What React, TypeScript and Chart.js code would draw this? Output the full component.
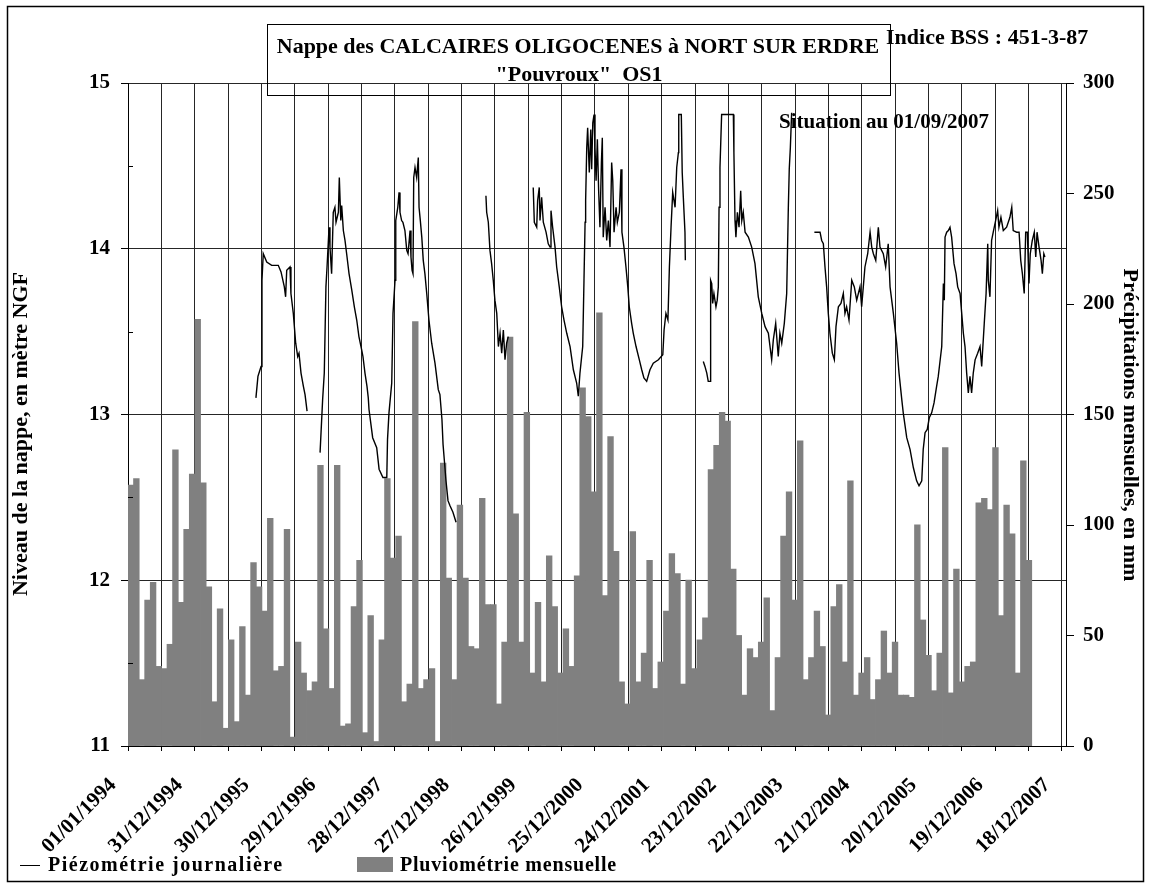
import React, { useEffect, useRef } from 'react';
import { Chart, registerables } from 'chart.js';

Chart.register(...registerables);

const FONT = '"Liberation Serif", "Times New Roman", serif';

// ---- text ----
const titleLines = ['Nappe des CALCAIRES OLIGOCENES à NORT SUR ERDRE', '"Pouvroux"  OS1'];
const bssText = 'Indice BSS : 451-3-87';
const situationText = 'Situation au 01/09/2007';
const leftAxisTitle = 'Niveau de la nappe, en mètre NGF';
const rightAxisTitle = 'Précipitations mensuelles, en mm';
const lineLabel = 'Piézométrie journalière';
const barLabel = 'Pluviométrie mensuelle';

// ---- x axis (days since 01/01/1994) ----
const xTickLabels = [
  '01/01/1994', '31/12/1994', '30/12/1995', '29/12/1996', '28/12/1997',
  '27/12/1998', '26/12/1999', '25/12/2000', '24/12/2001', '23/12/2002',
  '22/12/2003', '21/12/2004', '20/12/2005', '19/12/2006', '18/12/2007',
];
const X_TICK_STEP_DAYS = 182;
const X_MAX_DAYS = 5118;
const DAYS_PER_MONTH = 365.25 / 12;

// ---- y axes ----
const leftTicks = [11, 12, 13, 14, 15];
const leftMinorTicks = [11.5, 12.5, 13.5, 14.5];
const rightTicks = [0, 50, 100, 150, 200, 250, 300];

// ---- monthly rainfall (mm), from Jan 1994 ----
const rainMonthly = [
  118, 121, 30, 66, 74, 36, 35, 46, 134, 65, 98, 123,
  193, 119, 72, 20, 62, 8, 48, 11, 54, 23, 83, 72,
  61, 103, 34, 36, 98, 4, 47, 33, 25, 29, 127, 53,
  26, 127, 9, 10, 63, 84, 6, 59, 2, 48, 121, 85,
  95, 20, 28, 192, 26, 30, 35, 2, 128, 76, 30, 109,
  76, 45, 44, 112, 64, 64, 19, 47, 185, 105, 47, 151,
  33, 65, 29, 86, 63, 33, 53, 36, 77, 162, 149, 115,
  196, 68, 140, 88, 29, 19, 97, 29, 42, 84, 26, 38,
  61, 87, 78, 28, 75, 35, 48, 58, 125, 136, 151, 147,
  80, 50, 23, 44, 40, 47, 67, 16, 40, 95, 115, 66,
  138, 30, 40, 61, 45, 14, 63, 73, 38, 120, 23, 33,
  40, 21, 30, 52, 33, 47, 23, 23, 22, 100, 57, 41,
  25, 42, 135, 24, 80, 29, 36, 38, 110, 112, 107, 135,
  59, 109, 96, 33, 129, 84,
];

// ---- daily groundwater level (m NGF), segments [day, level] ----
const piezo1995 = [
  [698, 13.10], [709, 13.23], [726, 13.29], [731, 13.81], [738, 13.97], [757, 13.92],
  [784, 13.90], [820, 13.90], [835, 13.86], [853, 13.77], [860, 13.71], [866, 13.87],
  [884, 13.89], [889, 13.73], [902, 13.61], [915, 13.43], [926, 13.35], [933, 13.37],
  [944, 13.25], [957, 13.17], [966, 13.12], [977, 13.02],
];
const piezo1996 = [
  [1048, 12.77], [1062, 13.09], [1071, 13.25], [1080, 13.77], [1086, 13.89], [1097, 14.13],
  [1102, 14.01], [1111, 13.85], [1120, 14.22], [1129, 14.25], [1135, 14.16], [1148, 14.22],
  [1153, 14.43], [1161, 14.17], [1166, 14.26], [1175, 14.11], [1184, 14.05], [1193, 13.97],
  [1206, 13.85], [1221, 13.75], [1235, 13.65], [1248, 13.57], [1260, 13.47], [1275, 13.39],
  [1282, 13.35], [1293, 13.25], [1304, 13.17], [1311, 13.10], [1315, 13.03], [1335, 12.86],
  [1357, 12.80], [1370, 12.67], [1391, 12.62], [1412, 12.62], [1416, 12.85], [1424, 13.01],
  [1439, 13.19], [1446, 13.61], [1457, 13.81], [1461, 14.17], [1472, 14.25], [1479, 14.34],
  [1484, 14.22], [1493, 14.17], [1500, 14.16], [1511, 14.11], [1521, 13.99], [1528, 13.97],
  [1539, 14.11], [1544, 13.95], [1550, 13.87], [1555, 13.85], [1559, 14.43], [1566, 14.49],
  [1575, 14.43], [1584, 14.55], [1588, 14.25], [1595, 14.17], [1603, 14.07], [1611, 13.93],
  [1620, 13.85], [1630, 13.73], [1642, 13.57], [1657, 13.43], [1675, 13.31], [1693, 13.15],
  [1702, 13.12], [1713, 12.97], [1719, 12.82], [1727, 12.71], [1735, 12.60], [1746, 12.48],
  [1757, 12.45], [1773, 12.41], [1790, 12.35],
];
const piezo1999 = [
  [1953, 14.32], [1957, 14.22], [1966, 14.16], [1975, 13.99], [1984, 13.91], [1993, 13.81],
  [2002, 13.69], [2012, 13.61], [2021, 13.41], [2030, 13.49], [2039, 13.37], [2048, 13.51],
  [2057, 13.33], [2066, 13.43], [2075, 13.47],
];
const piezo2000 = [
  [2211, 14.37], [2217, 14.16], [2230, 14.13], [2235, 14.29], [2244, 14.37], [2248, 14.17],
  [2257, 14.31], [2266, 14.16], [2281, 14.10], [2293, 14.03], [2303, 14.01], [2308, 14.23],
  [2317, 14.13], [2330, 14.01], [2339, 13.89], [2353, 13.77], [2366, 13.65], [2379, 13.57],
  [2394, 13.49], [2412, 13.41], [2430, 13.27], [2448, 13.19], [2457, 13.11], [2466, 13.25],
  [2481, 13.41], [2488, 13.81], [2494, 14.16], [2497, 14.29], [2503, 14.61], [2508, 14.73],
  [2517, 14.46], [2525, 14.72], [2530, 14.48], [2536, 14.76], [2543, 14.81], [2548, 14.61],
  [2554, 14.41], [2561, 14.66], [2568, 14.35], [2575, 14.13], [2583, 14.52], [2588, 14.67],
  [2593, 14.07], [2603, 14.25], [2612, 14.05], [2621, 14.17], [2630, 14.01], [2639, 14.52],
  [2645, 14.41], [2652, 14.10], [2663, 14.25], [2670, 14.16], [2681, 14.22], [2690, 14.48],
  [2695, 14.10], [2706, 14.01], [2717, 13.89], [2727, 13.77], [2735, 13.65], [2748, 13.55],
  [2757, 13.49], [2772, 13.41], [2790, 13.33], [2803, 13.27], [2815, 13.22], [2830, 13.20],
  [2848, 13.27], [2866, 13.31], [2894, 13.33], [2918, 13.36], [2925, 13.51], [2935, 13.61],
  [2946, 13.57], [2954, 13.89], [2963, 14.13], [2972, 14.34], [2985, 14.25], [2994, 14.49],
  [3003, 14.58], [3005, 14.81], [3019, 14.81], [3024, 14.46], [3030, 14.31], [3039, 14.10],
  [3041, 13.93],
];
const piezo2002 = [
  [3139, 13.32], [3148, 13.29], [3158, 13.25], [3166, 13.20], [3176, 13.20], [3179, 13.81],
  [3185, 13.79], [3190, 13.67], [3197, 13.73], [3208, 13.65], [3215, 13.69], [3221, 13.77],
  [3225, 14.25], [3230, 14.49], [3239, 14.81], [3303, 14.81], [3306, 14.58], [3312, 14.17],
  [3317, 14.07], [3325, 14.22], [3334, 14.13], [3343, 14.35], [3349, 14.17], [3357, 14.22],
  [3367, 14.10], [3385, 14.07], [3403, 14.01], [3421, 13.91], [3439, 13.71], [3458, 13.61],
  [3476, 13.53], [3494, 13.49], [3512, 13.33], [3521, 13.45], [3534, 13.55], [3548, 13.35],
  [3557, 13.49], [3567, 13.43], [3581, 13.55], [3594, 13.73], [3603, 14.25], [3608, 14.48],
  [3614, 14.61], [3621, 14.82],
];
const piezo2004 = [
  [3745, 14.10], [3776, 14.10], [3785, 14.05], [3794, 14.03], [3803, 13.89], [3812, 13.77],
  [3821, 13.61], [3830, 13.49], [3843, 13.37], [3854, 13.33], [3863, 13.53], [3876, 13.65],
  [3890, 13.67], [3903, 13.73], [3912, 13.61], [3921, 13.65], [3934, 13.57], [3949, 13.81],
  [3963, 13.77], [3976, 13.69], [3994, 13.77], [4003, 13.65], [4012, 13.77], [4021, 13.89],
  [4036, 13.97], [4049, 14.10], [4058, 14.01], [4067, 13.97], [4080, 13.93], [4094, 14.13],
  [4103, 14.01], [4121, 13.97], [4134, 13.89], [4148, 14.03], [4158, 13.77], [4176, 13.61],
  [4194, 13.43], [4207, 13.25], [4222, 13.09], [4230, 13.01], [4249, 12.86], [4267, 12.79],
  [4285, 12.68], [4303, 12.60], [4316, 12.57], [4331, 12.60], [4339, 12.79], [4349, 12.89],
  [4361, 12.91], [4372, 12.98], [4385, 13.01], [4398, 13.07], [4412, 13.17], [4421, 13.23],
  [4440, 13.41], [4449, 13.79], [4454, 13.69], [4458, 14.07], [4467, 14.10], [4476, 14.11],
  [4485, 14.13], [4494, 14.07], [4507, 13.91], [4518, 13.85], [4527, 13.77], [4540, 13.73],
  [4549, 13.61], [4558, 13.49], [4567, 13.41], [4576, 13.25], [4585, 13.13], [4594, 13.23],
  [4603, 13.13], [4612, 13.25], [4622, 13.33], [4636, 13.37], [4649, 13.41], [4658, 13.29],
  [4672, 13.55], [4682, 13.73], [4691, 14.03], [4694, 13.81], [4703, 13.71], [4712, 14.05],
  [4721, 14.10], [4734, 14.17], [4745, 14.23], [4752, 14.13], [4763, 14.19], [4776, 14.11],
  [4794, 14.13], [4812, 14.19], [4822, 14.25], [4830, 14.11], [4849, 14.10], [4862, 14.10],
  [4871, 13.93], [4880, 13.85], [4890, 13.73], [4898, 14.10], [4907, 14.10], [4916, 13.79],
  [4923, 13.97], [4934, 14.05], [4945, 14.10], [4953, 13.95], [4960, 14.10], [4971, 14.01],
  [4982, 13.93], [4989, 13.85], [4997, 13.97], [5003, 13.95],
];
const piezoSegments = [piezo1995, piezo1996, piezo1999, piezo2000, piezo2002, piezo2004];

function buildLineData() {
  const out: { x: number; y: number | null }[] = [];
  piezoSegments.forEach((seg, si) => {
    if (si > 0) out.push({ x: seg[0][0] - 1, y: null });
    seg.forEach(([d, v]) => out.push({ x: d, y: v }));
  });
  return out;
}

const decorPlugin = {
  id: 'decor',
  afterDraw(chart: any) {
    const ctx: any = chart.ctx;
    const ca = chart.chartArea;
    const ys = chart.scales.y;
    ctx.save();
    ctx.strokeStyle = '#000';
    ctx.fillStyle = '#000';
    ctx.lineWidth = 1;
    // minor ticks on left axis (inside)
    leftMinorTicks.forEach((v) => {
      const py = Math.round(ys.getPixelForValue(v)) + 0.5;
      ctx.beginPath();
      ctx.moveTo(ca.left, py);
      ctx.lineTo(ca.left + 5, py);
      ctx.stroke();
    });
    // outer frame
    ctx.lineWidth = 1.5;
    ctx.strokeRect(7.5, 6.5, 1136, 875);
    // title box
    ctx.lineWidth = 1;
    ctx.strokeRect(267.5, 24.5, 623, 71);
    ctx.font = `bold 22px ${FONT}`;
    ctx.textBaseline = 'alphabetic';
    ctx.textAlign = 'center';
    ctx.fillText(titleLines[0], 578, 53);
    ctx.fillText(titleLines[1], 579, 81);
    ctx.textAlign = 'left';
    ctx.fillText(bssText, 886, 44);
    ctx.font = `bold 21px ${FONT}`;
    ctx.fillText(situationText, 779, 128);
    // axis titles
    ctx.font = `bold 22px ${FONT}`;
    ctx.textAlign = 'center';
    ctx.textBaseline = 'middle';
    ctx.save();
    ctx.translate(21, 434);
    ctx.rotate(-Math.PI / 2);
    ctx.fillText(leftAxisTitle, 0, 0);
    ctx.restore();
    ctx.save();
    ctx.translate(1130, 425);
    ctx.rotate(Math.PI / 2);
    ctx.fillText(rightAxisTitle, 0, 0);
    ctx.restore();
    // legend
    ctx.font = `bold 20px ${FONT}`;
    ctx.textAlign = 'left';
    ctx.textBaseline = 'alphabetic';
    ctx.beginPath();
    ctx.moveTo(20, 865.5);
    ctx.lineTo(40, 865.5);
    ctx.stroke();
    ctx.letterSpacing = '1.5px';
    ctx.fillText(lineLabel, 48, 871);
    ctx.fillStyle = '#808080';
    ctx.fillRect(357, 857, 36, 15);
    ctx.fillStyle = '#000';
    ctx.letterSpacing = '0.8px';
    ctx.fillText(barLabel, 400, 871);
    ctx.restore();
  },
};

export default function App() {
  const ref = useRef<HTMLCanvasElement | null>(null);
  useEffect(() => {
    if (!ref.current) return;
    const tickFont = { family: FONT, size: 21, weight: 'bold' as const };
    const monthTicks = Array.from({ length: Math.floor(X_MAX_DAYS / DAYS_PER_MONTH) + 1 }, (_, k) => ({ value: k }));
    const chart = new Chart(ref.current, {
      type: 'bar',
      data: {
        datasets: [
          {
            type: 'line',
            label: lineLabel,
            data: buildLineData(),
            xAxisID: 'x',
            yAxisID: 'y',
            borderColor: '#000',
            borderWidth: 1.4,
            pointRadius: 0,
            tension: 0,
            spanGaps: false,
            order: 0,
          } as any,
          {
            type: 'bar',
            label: barLabel,
            data: rainMonthly.map((v, i) => ({ x: i + 0.5, y: v })),
            xAxisID: 'xm',
            yAxisID: 'y2',
            backgroundColor: '#808080',
            borderWidth: 0,
            barPercentage: 1,
            categoryPercentage: 1,
            grouped: false,
            inflateAmount: 0.4,
            order: 1,
          } as any,
        ],
      },
      options: {
        responsive: false,
        animation: false,
        events: [],
        datasets: { bar: { barPercentage: 1, categoryPercentage: 1 } },
        layout: { padding: { top: 83, left: 0, right: 0, bottom: 0 } },
        plugins: { legend: { display: false }, tooltip: { enabled: false }, title: { display: false } },
        scales: {
          x: {
            type: 'linear',
            position: 'bottom',
            offset: false,
            min: 0,
            max: X_MAX_DAYS,
            afterBuildTicks: (s: any) => {
              s.ticks = Array.from({ length: (xTickLabels.length - 1) * 2 + 1 }, (_, k) => ({ value: k * X_TICK_STEP_DAYS }));
            },
            afterFit: (s: any) => { s.height = 137; s.paddingLeft = 0; s.paddingRight = 0; },
            ticks: {
              autoSkip: false,
              minRotation: 45,
              maxRotation: 45,
              padding: 22,
              labelOffset: -15,
              color: '#000',
              font: tickFont,
              callback: (_v: any, i: number) => (i % 2 === 0 ? xTickLabels[i / 2] : ''),
            },
            grid: { offset: false, color: '#262626', lineWidth: 1, tickLength: 5, tickColor: '#000' },
            border: { display: true, color: '#000', width: 1 },
          },
          xm: {
            type: 'linear',
            display: false,
            offset: false,
            grid: { offset: false },
            min: 0,
            max: X_MAX_DAYS / DAYS_PER_MONTH,
            afterBuildTicks: (s: any) => { s.ticks = monthTicks.map((t) => ({ ...t })); },
          },
          y: {
            type: 'linear',
            position: 'left',
            min: 11,
            max: 15,
            afterBuildTicks: (s: any) => { s.ticks = leftTicks.map((v) => ({ value: v })); },
            afterFit: (s: any) => { s.width = 128; s.paddingTop = 0; s.paddingBottom = 0; },
            ticks: { padding: 11, color: '#000', font: tickFont },
            grid: { color: '#262626', lineWidth: 1, tickLength: 7, tickColor: '#000' },
            border: { display: true, color: '#000', width: 1 },
          },
          y2: {
            type: 'linear',
            position: 'right',
            min: 0,
            max: 300,
            afterBuildTicks: (s: any) => { s.ticks = rightTicks.map((v) => ({ value: v })); },
            afterFit: (s: any) => { s.width = 83; s.paddingTop = 0; s.paddingBottom = 0; },
            ticks: { padding: 9, color: '#000', font: tickFont },
            grid: { drawOnChartArea: false, tickLength: 8, tickColor: '#000' },
            border: { display: true, color: '#000', width: 1 },
          },
        },
      } as any,
      plugins: [decorPlugin],
    });
    return () => chart.destroy();
  }, []);
  return (
    <div style={{ position: 'absolute', left: 0, top: 0, width: 1149, height: 883 }}>
      <canvas ref={ref} width={1149} height={883} style={{ display: 'block' }} />
    </div>
  );
}
